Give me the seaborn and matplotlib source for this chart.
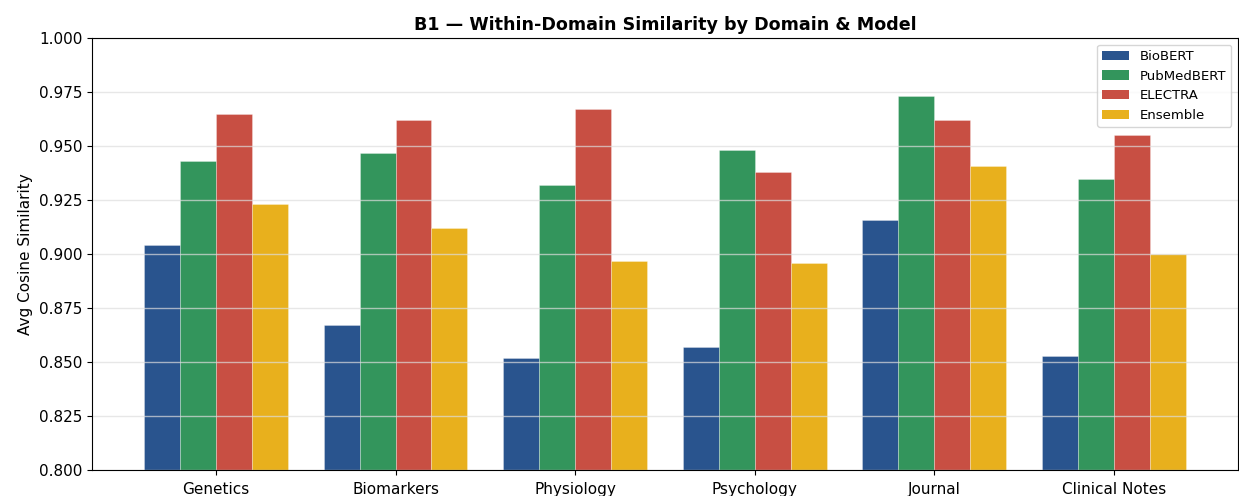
"""B1 within-domain similarity: grouped bars per domain and model."""

import matplotlib

matplotlib.use("Agg")
import matplotlib.pyplot as plt
from matplotlib.patches import Patch
from matplotlib.ticker import FormatStrFormatter
import pandas as pd
import seaborn as sns

DOMAINS = ["Genetics", "Biomarkers", "Physiology", "Psychology", "Journal", "Clinical Notes"]
MODELS = ["BioBERT", "PubMedBERT", "ELECTRA", "Ensemble"]

BIOBERT = [0.904, 0.867, 0.852, 0.857, 0.916, 0.853]
PUBMEDBERT = [0.943, 0.947, 0.932, 0.948, 0.973, 0.935]
ELECTRA = [0.965, 0.962, 0.967, 0.938, 0.962, 0.955]
ENSEMBLE = [0.923, 0.912, 0.897, 0.896, 0.941, 0.900]

COLORS = ["#29548e", "#33955c", "#c84f43", "#e8b01d"]


def build_frame() -> pd.DataFrame:
    rows = []
    for model, vals in zip(MODELS, [BIOBERT, PUBMEDBERT, ELECTRA, ENSEMBLE]):
        for domain, v in zip(DOMAINS, vals):
            rows.append({"Domain": domain, "Model": model, "Similarity": v})
    return pd.DataFrame(rows)


def main():
    df = build_frame()

    fig, ax = plt.subplots(figsize=(12.39, 4.96), dpi=100)
    fig.subplots_adjust(left=0.0743, right=0.999, top=0.923, bottom=0.0524)

    sns.barplot(
        data=df,
        x="Domain",
        y="Similarity",
        hue="Model",
        order=DOMAINS,
        hue_order=MODELS,
        palette=COLORS,
        width=0.8,
        edgecolor=(1, 1, 1, 0.5),
        linewidth=0.4,
        saturation=1,
        legend=False,
        ax=ax,
    )

    ax.set_ylim(0.8, 1.0)
    ax.set_xlim(-0.69, 5.69)
    ax.set_xlabel("")
    ax.set_ylabel("Avg Cosine Similarity", fontsize=11)
    ax.set_title("B1 — Within-Domain Similarity by Domain & Model",
                 fontsize=12.6, fontweight="bold")
    ax.tick_params(axis="both", labelsize=11)
    ax.tick_params(axis="x", pad=5)
    ax.yaxis.set_major_formatter(FormatStrFormatter("%.3f"))

    ax.grid(axis="y", color="#dddddd", alpha=0.7, linewidth=1)
    ax.set_axisbelow("line")

    handles = [Patch(facecolor=c, label=m) for c, m in zip(COLORS, MODELS)]
    ax.legend(handles=handles, loc="upper right", fontsize=9.5)

    fig.savefig("out.png", dpi=100)


if __name__ == "__main__":
    main()
